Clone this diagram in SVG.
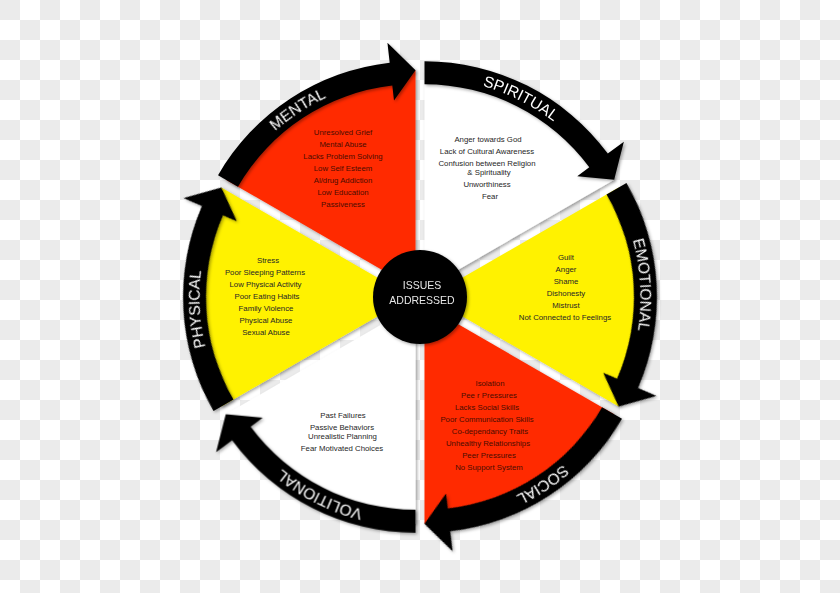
<svg xmlns="http://www.w3.org/2000/svg" width="840" height="593" viewBox="0 0 840 593">
<defs>
<pattern id="chk" width="40" height="40" patternUnits="userSpaceOnUse">
<rect width="40" height="40" fill="#ffffff"/>
<rect width="20" height="20" fill="#ebebeb"/>
<rect x="20" y="20" width="20" height="20" fill="#ebebeb"/>
</pattern>
<filter id="sh" x="-10%" y="-10%" width="120%" height="120%">
<feDropShadow dx="1.5" dy="1.5" stdDeviation="1.5" flood-color="#000" flood-opacity="0.35"/>
</filter>
<path id="wedge" d="M0,0 L0,-219 A219,219 0 0 1 189.66,-109.5 Z"/>
<path id="band" d="M0,-228 A228,228 0 0 1 183.29,-135.61 L199.37,-147.51 L189.66,-109.5 L152.74,-113.01 L164.8,-121.93 A205,205 0 0 0 0,-205 Z"/>
<path id="lp" d="M0,-211.5 A211.5,211.5 0 0 1 170.03,-125.8"/>
</defs>
<style>
.lbl{font-family:"Liberation Sans",Arial,sans-serif;font-size:15.5px;fill:#ffffff;text-anchor:middle}
.li{font-family:"Liberation Sans",Arial,sans-serif;font-size:7.8px;text-anchor:middle;fill:#262626}
.onred{fill:#4a0c00}
.ctr{font-family:"Liberation Sans",Arial,sans-serif;font-size:10.5px;text-anchor:middle;fill:#e6e6e6}
</style>
<rect width="840" height="593" fill="url(#chk)"/>

<g id="mental">
<g filter="url(#sh)"><use href="#wedge" transform="translate(415.5,289.21) rotate(300)" fill="#ff2a00"/></g>
<g class="li onred">
<text x="343" y="134.5">Unresolved Grief</text>
<text x="343" y="146.5">Mental Abuse</text>
<text x="343" y="158.5">Lacks Problem Solving</text>
<text x="343" y="170.5">Low Self Esteem</text>
<text x="343" y="182.5">Al/drug Addiction</text>
<text x="343" y="194.5">Low Education</text>
<text x="343" y="206.5">Passiveness</text>
</g>
</g>

<g id="spiritual">
<g filter="url(#sh)"><use href="#wedge" transform="translate(424.5,289.21)" fill="#ffffff"/></g>
<g class="li">
<text x="488" y="141.8">Anger towards God</text>
<text x="487" y="153.5">Lack of Cultural Awareness</text>
<text x="487" y="166">Confusion between Religion</text>
<text x="489" y="174.5">&amp; Spirituality</text>
<text x="487" y="187">Unworthiness</text>
<text x="490" y="198.8">Fear</text>
</g>
</g>

<g id="emotional">
<g filter="url(#sh)"><use href="#wedge" transform="translate(429,297) rotate(60)" fill="#fff200"/></g>
<g class="li">
<text x="566" y="259.5">Guilt</text>
<text x="566" y="271.8">Anger</text>
<text x="566" y="283.8">Shame</text>
<text x="566" y="295.5">Dishonesty</text>
<text x="566" y="307.5">Mistrust</text>
<text x="565" y="319.5">Not Connected to Feelings</text>
</g>
</g>

<g id="social">
<g filter="url(#sh)"><use href="#wedge" transform="translate(424.5,304.79) rotate(120)" fill="#ff2a00"/></g>
<g class="li onred">
<text x="490" y="386">Isolation</text>
<text x="489" y="398">Pee r Pressures</text>
<text x="487" y="410">Lacks Social Skills</text>
<text x="487" y="422">Poor Communication Skills</text>
<text x="490" y="434">Co-dependancy Traits</text>
<text x="488" y="446">Unhealthy Relationships</text>
<text x="489" y="458">Peer Pressures</text>
<text x="489" y="470">No Support System</text>
</g>
</g>

<g id="volitional">
<g filter="url(#sh)"><use href="#wedge" transform="translate(415.5,304.79) rotate(180)" fill="#ffffff"/></g>
<g class="li">
<text x="343" y="417.8">Past Failures</text>
<text x="342" y="429.5">Passive Behaviors</text>
<text x="342.5" y="438.8">Unrealistic Planning</text>
<text x="342" y="451">Fear Motivated Choices</text>
</g>
</g>

<g id="physical">
<g filter="url(#sh)"><use href="#wedge" transform="translate(411,297) rotate(240)" fill="#fff200"/></g>
<g class="li">
<text x="268" y="262.8">Stress</text>
<text x="265" y="274.8">Poor Sleeping Patterns</text>
<text x="265.5" y="287">Low Physical Activity</text>
<text x="267" y="298.8">Poor Eating Habits</text>
<text x="266" y="310.8">Family Violence</text>
<text x="266" y="322.8">Physical Abuse</text>
<text x="266" y="334.5">Sexual Abuse</text>
</g>
</g>

<g id="connectors">
<g filter="url(#sh)">
<use href="#band" transform="translate(415.5,289.21) rotate(300)"/>
<use href="#band" transform="translate(424.5,289.21)"/>
<use href="#band" transform="translate(429,297) rotate(60)"/>
<use href="#band" transform="translate(424.5,304.79) rotate(120)"/>
<use href="#band" transform="translate(415.5,304.79) rotate(180)"/>
<use href="#band" transform="translate(411,297) rotate(240)"/>
</g>
<text class="lbl" transform="translate(415.5,289.21) rotate(300)"><textPath href="#lp" startOffset="50%">MENTAL</textPath></text>
<text class="lbl" transform="translate(424.5,289.21)"><textPath href="#lp" startOffset="50%">SPIRITUAL</textPath></text>
<text class="lbl" transform="translate(429,297) rotate(60)"><textPath href="#lp" startOffset="50%">EMOTIONAL</textPath></text>
<text class="lbl" transform="translate(424.5,304.79) rotate(120)"><textPath href="#lp" startOffset="50%">SOCIAL</textPath></text>
<text class="lbl" transform="translate(415.5,304.79) rotate(180)"><textPath href="#lp" startOffset="50%">VOLITIONAL</textPath></text>
<text class="lbl" transform="translate(411,297) rotate(240)"><textPath href="#lp" startOffset="50%">PHYSICAL</textPath></text>
</g>

<g id="center">
<circle cx="420" cy="297" r="47" fill="#000" filter="url(#sh)"/>
<text class="ctr" x="422" y="288.8">ISSUES</text>
<text class="ctr" x="422" y="303.8">ADDRESSED</text>
</g>
</svg>
